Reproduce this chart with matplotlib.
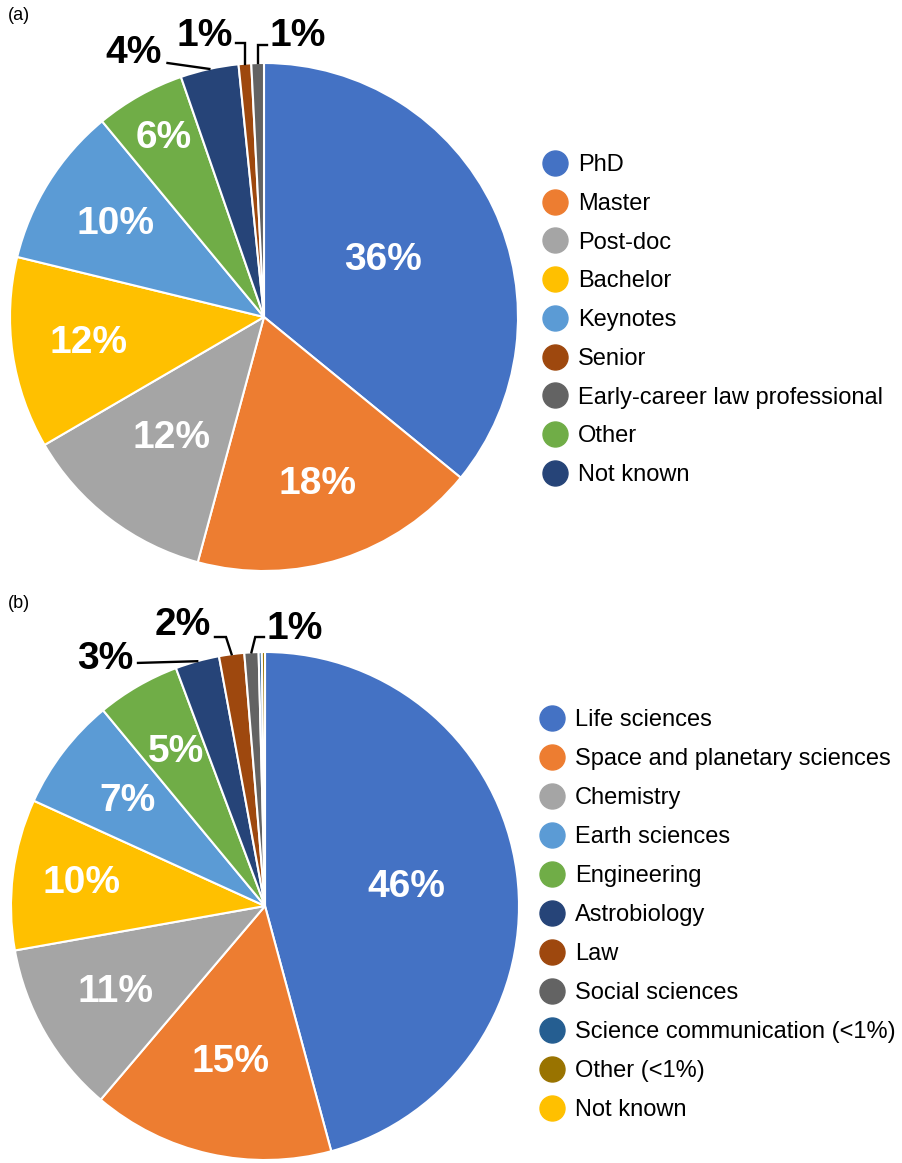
import numpy as np
import matplotlib
matplotlib.use("Agg")
import matplotlib.pyplot as plt
from matplotlib.lines import Line2D

plt.rcParams["font.family"] = ["Liberation Sans", "DejaVu Sans"]

# ---- data (a): career stage, in pie order (clockwise from 12 o'clock) ----
stage_names = ["PhD", "Master", "Post-doc", "Bachelor", "Keynotes", "Other",
               "Not known", "Senior", "Early-career law professional"]
stage_share = [35.9, 18.3, 12.4, 12.2, 10.2, 5.7, 3.7, 0.8, 0.8]
stage_legend = ["PhD", "Master", "Post-doc", "Bachelor", "Keynotes", "Senior",
                "Early-career law professional", "Other", "Not known"]

# ---- data (b): field, in pie order ----
field_names = ["Life sciences", "Space and planetary sciences", "Chemistry",
               "Not known", "Earth sciences", "Engineering", "Astrobiology",
               "Law", "Social sciences", "Science communication (<1%)",
               "Other (<1%)"]
field_share = [45.8, 15.4, 11.0, 9.6, 7.2, 5.3, 2.8, 1.6, 0.9, 0.2, 0.2]
field_legend = ["Life sciences", "Space and planetary sciences", "Chemistry",
                "Earth sciences", "Engineering", "Astrobiology", "Law",
                "Social sciences", "Science communication (<1%)", "Other (<1%)",
                "Not known"]

colors_a = {"PhD": "#4472C4", "Master": "#ED7D31", "Post-doc": "#A5A5A5",
            "Bachelor": "#FFC000", "Keynotes": "#5B9BD5", "Other": "#70AD47",
            "Not known": "#264478", "Senior": "#9E480E",
            "Early-career law professional": "#636363"}
colors_b = {"Life sciences": "#4472C4", "Space and planetary sciences": "#ED7D31",
            "Chemistry": "#A5A5A5", "Not known": "#FFC000",
            "Earth sciences": "#5B9BD5", "Engineering": "#70AD47",
            "Astrobiology": "#264478", "Law": "#9E480E",
            "Social sciences": "#636363",
            "Science communication (<1%)": "#255E91", "Other (<1%)": "#997300"}

W, H = 903, 1163
R = 254


def pie_axes(fig, cx, cy):
    return fig.add_axes([(cx - R) / W, (H - cy - R) / H, 2 * R / W, 2 * R / H])


def draw_pie(ax, names, shares, cmap, inner_r, outer):
    wedges = ax.pie(shares, colors=[cmap[n] for n in names], startangle=90,
                    counterclock=False, radius=1,
                    wedgeprops=dict(edgecolor="white", linewidth=1.5))[0]
    ax.set_xlim(-1, 1)
    ax.set_ylim(-1, 1)
    mids = [np.deg2rad((w.theta1 + w.theta2) / 2) for w in wedges]
    for v, a, r in zip(shares, mids, inner_r):
        ax.text(r * np.cos(a), r * np.sin(a), f"{v:.0f}%", ha="center",
                va="center", color="white", fontsize=28, fontweight="bold")
    # outside labels for the thin slices: (wedge index, text pos, line start, elbow)
    for i, (tx, ty), (sx, sy), elbow in outer:
        a = mids[i]
        wx, wy = np.cos(a), np.sin(a)
        ax.text(tx, ty, f"{shares[i]:.0f}%", ha="center", va="center",
                color="black", fontsize=28, fontweight="bold", clip_on=False)
        if elbow is not None:
            xs, ys = [sx, wx + elbow, wx], [sy, sy, wy]
        else:
            xs, ys = [sx, wx], [sy, wy]
        ax.plot(xs, ys, color="black", lw=1.7, clip_on=False,
                solid_joinstyle="miter")


def add_legend(fig, order, cmap, x, y, spacing):
    handles = [Line2D([], [], marker="o", ls="", markersize=18,
                      markerfacecolor=cmap[n], markeredgecolor=cmap[n])
               for n in order]
    fig.legend(handles, order, loc="upper left", bbox_to_anchor=(x / W, 1 - y / H),
               frameon=False, fontsize=17, handletextpad=0.3,
               labelspacing=spacing, borderpad=0, borderaxespad=0,
               handlelength=1.4)


fig = plt.figure(figsize=(W / 100, H / 100), dpi=100)

# (a)
ax_a = pie_axes(fig, 264, 317)
draw_pie(ax_a, stage_names, stage_share, colors_a,
         [0.52, 0.69, 0.60, 0.70, 0.69, 0.81],
         [(6, (-0.515, 1.04), (-0.38, 1.00), None),
          (7, (-0.232, 1.108), (-0.11, 1.079), 0.0),
          (8, (0.134, 1.108), (0.012, 1.071), 0.0)])
add_legend(fig, stage_legend, colors_a, 538, 154, 0.71)
fig.text(8 / W, 1 - 16 / H, "(a)", fontsize=13, va="center")

# (b)
ax_b = pie_axes(fig, 265, 906)
draw_pie(ax_b, field_names, field_share, colors_b,
         [0.56, 0.63, 0.68, 0.73, 0.68, 0.70],
         [(6, (-0.63, 0.972), (-0.50, 0.957), None),
          (7, (-0.323, 1.106), (-0.197, 1.059), -0.022),
          (8, (0.118, 1.09), (-0.004, 1.059), 0.015)])
add_legend(fig, field_legend, colors_b, 535, 709, 0.72)
fig.text(8 / W, 1 - 604 / H, "(b)", fontsize=13, va="center")

fig.savefig("out.png", dpi=100)
